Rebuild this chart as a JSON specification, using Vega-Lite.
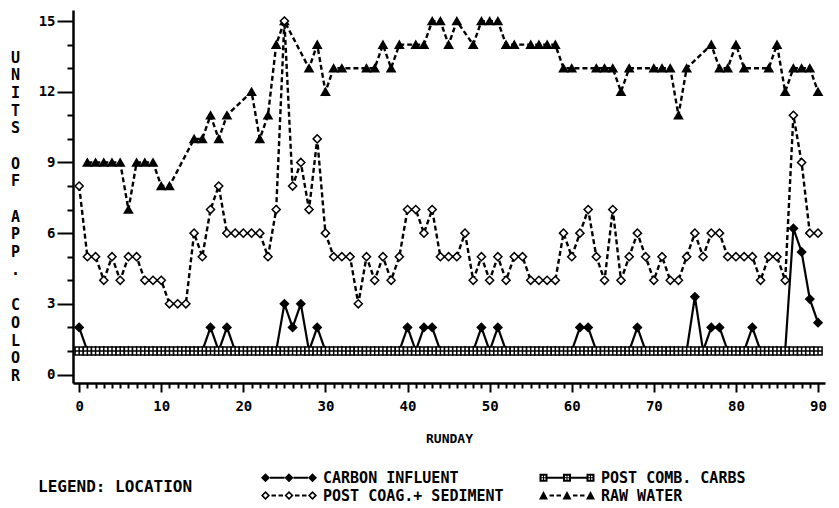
{
  "$schema": "https://vega.github.io/schema/vega-lite/v6.json",
  "autosize": "none",
  "padding": {"left": 73, "top": 10, "right": 14, "bottom": 125},
  "width": 752,
  "height": 373,
  "background": "white",
  "config": {
    "view": {"stroke": null},
    "axis": {"domainColor": "black", "domainWidth": 2.5, "tickColor": "black", "tickWidth": 2, "labelColor": "black", "titleColor": "black", "labelFont": "DejaVu Sans Mono", "titleFont": "DejaVu Sans Mono", "labelFontWeight": "bold", "titleFontWeight": "bold", "grid": false, "labelOverlap": false, "labelBound": false, "labelFlush": false},
    "legend": {"labelColor": "black", "titleColor": "black"}
  },
  "resolve": {"scale": {"shape": "independent"}},
  "data": {"values": [
    {"day":0,"value":2,"location":"CARBON INFLUENT"},{"day":1,"value":1,"location":"CARBON INFLUENT"},{"day":2,"value":1,"location":"CARBON INFLUENT"},{"day":3,"value":1,"location":"CARBON INFLUENT"},{"day":4,"value":1,"location":"CARBON INFLUENT"},{"day":5,"value":1,"location":"CARBON INFLUENT"},{"day":6,"value":1,"location":"CARBON INFLUENT"},{"day":7,"value":1,"location":"CARBON INFLUENT"},{"day":8,"value":1,"location":"CARBON INFLUENT"},{"day":9,"value":1,"location":"CARBON INFLUENT"},
    {"day":10,"value":1,"location":"CARBON INFLUENT"},{"day":11,"value":1,"location":"CARBON INFLUENT"},{"day":12,"value":1,"location":"CARBON INFLUENT"},{"day":13,"value":1,"location":"CARBON INFLUENT"},{"day":14,"value":1,"location":"CARBON INFLUENT"},{"day":15,"value":1,"location":"CARBON INFLUENT"},{"day":16,"value":2,"location":"CARBON INFLUENT"},{"day":17,"value":1,"location":"CARBON INFLUENT"},{"day":18,"value":2,"location":"CARBON INFLUENT"},{"day":19,"value":1,"location":"CARBON INFLUENT"},
    {"day":20,"value":1,"location":"CARBON INFLUENT"},{"day":21,"value":1,"location":"CARBON INFLUENT"},{"day":22,"value":1,"location":"CARBON INFLUENT"},{"day":23,"value":1,"location":"CARBON INFLUENT"},{"day":24,"value":1,"location":"CARBON INFLUENT"},{"day":25,"value":3,"location":"CARBON INFLUENT"},{"day":26,"value":2,"location":"CARBON INFLUENT"},{"day":27,"value":3,"location":"CARBON INFLUENT"},{"day":28,"value":1,"location":"CARBON INFLUENT"},{"day":29,"value":2,"location":"CARBON INFLUENT"},
    {"day":30,"value":1,"location":"CARBON INFLUENT"},{"day":31,"value":1,"location":"CARBON INFLUENT"},{"day":32,"value":1,"location":"CARBON INFLUENT"},{"day":33,"value":1,"location":"CARBON INFLUENT"},{"day":34,"value":1,"location":"CARBON INFLUENT"},{"day":35,"value":1,"location":"CARBON INFLUENT"},{"day":36,"value":1,"location":"CARBON INFLUENT"},{"day":37,"value":1,"location":"CARBON INFLUENT"},{"day":38,"value":1,"location":"CARBON INFLUENT"},{"day":39,"value":1,"location":"CARBON INFLUENT"},
    {"day":40,"value":2,"location":"CARBON INFLUENT"},{"day":41,"value":1,"location":"CARBON INFLUENT"},{"day":42,"value":2,"location":"CARBON INFLUENT"},{"day":43,"value":2,"location":"CARBON INFLUENT"},{"day":44,"value":1,"location":"CARBON INFLUENT"},{"day":45,"value":1,"location":"CARBON INFLUENT"},{"day":46,"value":1,"location":"CARBON INFLUENT"},{"day":47,"value":1,"location":"CARBON INFLUENT"},{"day":48,"value":1,"location":"CARBON INFLUENT"},{"day":49,"value":2,"location":"CARBON INFLUENT"},
    {"day":50,"value":1,"location":"CARBON INFLUENT"},{"day":51,"value":2,"location":"CARBON INFLUENT"},{"day":52,"value":1,"location":"CARBON INFLUENT"},{"day":53,"value":1,"location":"CARBON INFLUENT"},{"day":54,"value":1,"location":"CARBON INFLUENT"},{"day":55,"value":1,"location":"CARBON INFLUENT"},{"day":56,"value":1,"location":"CARBON INFLUENT"},{"day":57,"value":1,"location":"CARBON INFLUENT"},{"day":58,"value":1,"location":"CARBON INFLUENT"},{"day":59,"value":1,"location":"CARBON INFLUENT"},
    {"day":60,"value":1,"location":"CARBON INFLUENT"},{"day":61,"value":2,"location":"CARBON INFLUENT"},{"day":62,"value":2,"location":"CARBON INFLUENT"},{"day":63,"value":1,"location":"CARBON INFLUENT"},{"day":64,"value":1,"location":"CARBON INFLUENT"},{"day":65,"value":1,"location":"CARBON INFLUENT"},{"day":66,"value":1,"location":"CARBON INFLUENT"},{"day":67,"value":1,"location":"CARBON INFLUENT"},{"day":68,"value":2,"location":"CARBON INFLUENT"},{"day":69,"value":1,"location":"CARBON INFLUENT"},
    {"day":70,"value":1,"location":"CARBON INFLUENT"},{"day":71,"value":1,"location":"CARBON INFLUENT"},{"day":72,"value":1,"location":"CARBON INFLUENT"},{"day":73,"value":1,"location":"CARBON INFLUENT"},{"day":74,"value":1,"location":"CARBON INFLUENT"},{"day":75,"value":3.3,"location":"CARBON INFLUENT"},{"day":76,"value":1,"location":"CARBON INFLUENT"},{"day":77,"value":2,"location":"CARBON INFLUENT"},{"day":78,"value":2,"location":"CARBON INFLUENT"},{"day":79,"value":1,"location":"CARBON INFLUENT"},
    {"day":80,"value":1,"location":"CARBON INFLUENT"},{"day":81,"value":1,"location":"CARBON INFLUENT"},{"day":82,"value":2,"location":"CARBON INFLUENT"},{"day":83,"value":1,"location":"CARBON INFLUENT"},{"day":84,"value":1,"location":"CARBON INFLUENT"},{"day":85,"value":1,"location":"CARBON INFLUENT"},{"day":86,"value":1,"location":"CARBON INFLUENT"},{"day":87,"value":6.2,"location":"CARBON INFLUENT"},{"day":88,"value":5.2,"location":"CARBON INFLUENT"},{"day":89,"value":3.2,"location":"CARBON INFLUENT"},{"day":90,"value":2.2,"location":"CARBON INFLUENT"},

    {"day":0,"value":8,"location":"POST COAG.+ SEDIMENT"},{"day":1,"value":5,"location":"POST COAG.+ SEDIMENT"},{"day":2,"value":5,"location":"POST COAG.+ SEDIMENT"},{"day":3,"value":4,"location":"POST COAG.+ SEDIMENT"},{"day":4,"value":5,"location":"POST COAG.+ SEDIMENT"},{"day":5,"value":4,"location":"POST COAG.+ SEDIMENT"},{"day":6,"value":5,"location":"POST COAG.+ SEDIMENT"},{"day":7,"value":5,"location":"POST COAG.+ SEDIMENT"},{"day":8,"value":4,"location":"POST COAG.+ SEDIMENT"},{"day":9,"value":4,"location":"POST COAG.+ SEDIMENT"},
    {"day":10,"value":4,"location":"POST COAG.+ SEDIMENT"},{"day":11,"value":3,"location":"POST COAG.+ SEDIMENT"},{"day":12,"value":3,"location":"POST COAG.+ SEDIMENT"},{"day":13,"value":3,"location":"POST COAG.+ SEDIMENT"},{"day":14,"value":6,"location":"POST COAG.+ SEDIMENT"},{"day":15,"value":5,"location":"POST COAG.+ SEDIMENT"},{"day":16,"value":7,"location":"POST COAG.+ SEDIMENT"},{"day":17,"value":8,"location":"POST COAG.+ SEDIMENT"},{"day":18,"value":6,"location":"POST COAG.+ SEDIMENT"},{"day":19,"value":6,"location":"POST COAG.+ SEDIMENT"},
    {"day":20,"value":6,"location":"POST COAG.+ SEDIMENT"},{"day":21,"value":6,"location":"POST COAG.+ SEDIMENT"},{"day":22,"value":6,"location":"POST COAG.+ SEDIMENT"},{"day":23,"value":5,"location":"POST COAG.+ SEDIMENT"},{"day":24,"value":7,"location":"POST COAG.+ SEDIMENT"},{"day":25,"value":15,"location":"POST COAG.+ SEDIMENT"},{"day":26,"value":8,"location":"POST COAG.+ SEDIMENT"},{"day":27,"value":9,"location":"POST COAG.+ SEDIMENT"},{"day":28,"value":7,"location":"POST COAG.+ SEDIMENT"},{"day":29,"value":10,"location":"POST COAG.+ SEDIMENT"},
    {"day":30,"value":6,"location":"POST COAG.+ SEDIMENT"},{"day":31,"value":5,"location":"POST COAG.+ SEDIMENT"},{"day":32,"value":5,"location":"POST COAG.+ SEDIMENT"},{"day":33,"value":5,"location":"POST COAG.+ SEDIMENT"},{"day":34,"value":3,"location":"POST COAG.+ SEDIMENT"},{"day":35,"value":5,"location":"POST COAG.+ SEDIMENT"},{"day":36,"value":4,"location":"POST COAG.+ SEDIMENT"},{"day":37,"value":5,"location":"POST COAG.+ SEDIMENT"},{"day":38,"value":4,"location":"POST COAG.+ SEDIMENT"},{"day":39,"value":5,"location":"POST COAG.+ SEDIMENT"},
    {"day":40,"value":7,"location":"POST COAG.+ SEDIMENT"},{"day":41,"value":7,"location":"POST COAG.+ SEDIMENT"},{"day":42,"value":6,"location":"POST COAG.+ SEDIMENT"},{"day":43,"value":7,"location":"POST COAG.+ SEDIMENT"},{"day":44,"value":5,"location":"POST COAG.+ SEDIMENT"},{"day":45,"value":5,"location":"POST COAG.+ SEDIMENT"},{"day":46,"value":5,"location":"POST COAG.+ SEDIMENT"},{"day":47,"value":6,"location":"POST COAG.+ SEDIMENT"},{"day":48,"value":4,"location":"POST COAG.+ SEDIMENT"},{"day":49,"value":5,"location":"POST COAG.+ SEDIMENT"},
    {"day":50,"value":4,"location":"POST COAG.+ SEDIMENT"},{"day":51,"value":5,"location":"POST COAG.+ SEDIMENT"},{"day":52,"value":4,"location":"POST COAG.+ SEDIMENT"},{"day":53,"value":5,"location":"POST COAG.+ SEDIMENT"},{"day":54,"value":5,"location":"POST COAG.+ SEDIMENT"},{"day":55,"value":4,"location":"POST COAG.+ SEDIMENT"},{"day":56,"value":4,"location":"POST COAG.+ SEDIMENT"},{"day":57,"value":4,"location":"POST COAG.+ SEDIMENT"},{"day":58,"value":4,"location":"POST COAG.+ SEDIMENT"},{"day":59,"value":6,"location":"POST COAG.+ SEDIMENT"},
    {"day":60,"value":5,"location":"POST COAG.+ SEDIMENT"},{"day":61,"value":6,"location":"POST COAG.+ SEDIMENT"},{"day":62,"value":7,"location":"POST COAG.+ SEDIMENT"},{"day":63,"value":5,"location":"POST COAG.+ SEDIMENT"},{"day":64,"value":4,"location":"POST COAG.+ SEDIMENT"},{"day":65,"value":7,"location":"POST COAG.+ SEDIMENT"},{"day":66,"value":4,"location":"POST COAG.+ SEDIMENT"},{"day":67,"value":5,"location":"POST COAG.+ SEDIMENT"},{"day":68,"value":6,"location":"POST COAG.+ SEDIMENT"},{"day":69,"value":5,"location":"POST COAG.+ SEDIMENT"},
    {"day":70,"value":4,"location":"POST COAG.+ SEDIMENT"},{"day":71,"value":5,"location":"POST COAG.+ SEDIMENT"},{"day":72,"value":4,"location":"POST COAG.+ SEDIMENT"},{"day":73,"value":4,"location":"POST COAG.+ SEDIMENT"},{"day":74,"value":5,"location":"POST COAG.+ SEDIMENT"},{"day":75,"value":6,"location":"POST COAG.+ SEDIMENT"},{"day":76,"value":5,"location":"POST COAG.+ SEDIMENT"},{"day":77,"value":6,"location":"POST COAG.+ SEDIMENT"},{"day":78,"value":6,"location":"POST COAG.+ SEDIMENT"},{"day":79,"value":5,"location":"POST COAG.+ SEDIMENT"},
    {"day":80,"value":5,"location":"POST COAG.+ SEDIMENT"},{"day":81,"value":5,"location":"POST COAG.+ SEDIMENT"},{"day":82,"value":5,"location":"POST COAG.+ SEDIMENT"},{"day":83,"value":4,"location":"POST COAG.+ SEDIMENT"},{"day":84,"value":5,"location":"POST COAG.+ SEDIMENT"},{"day":85,"value":5,"location":"POST COAG.+ SEDIMENT"},{"day":86,"value":4,"location":"POST COAG.+ SEDIMENT"},{"day":87,"value":11,"location":"POST COAG.+ SEDIMENT"},{"day":88,"value":9,"location":"POST COAG.+ SEDIMENT"},{"day":89,"value":6,"location":"POST COAG.+ SEDIMENT"},{"day":90,"value":6,"location":"POST COAG.+ SEDIMENT"},

    {"day":0,"value":1,"location":"POST COMB. CARBS"},{"day":1,"value":1,"location":"POST COMB. CARBS"},{"day":2,"value":1,"location":"POST COMB. CARBS"},{"day":3,"value":1,"location":"POST COMB. CARBS"},{"day":4,"value":1,"location":"POST COMB. CARBS"},{"day":5,"value":1,"location":"POST COMB. CARBS"},{"day":6,"value":1,"location":"POST COMB. CARBS"},{"day":7,"value":1,"location":"POST COMB. CARBS"},{"day":8,"value":1,"location":"POST COMB. CARBS"},{"day":9,"value":1,"location":"POST COMB. CARBS"},
    {"day":10,"value":1,"location":"POST COMB. CARBS"},{"day":11,"value":1,"location":"POST COMB. CARBS"},{"day":12,"value":1,"location":"POST COMB. CARBS"},{"day":13,"value":1,"location":"POST COMB. CARBS"},{"day":14,"value":1,"location":"POST COMB. CARBS"},{"day":15,"value":1,"location":"POST COMB. CARBS"},{"day":16,"value":1,"location":"POST COMB. CARBS"},{"day":17,"value":1,"location":"POST COMB. CARBS"},{"day":18,"value":1,"location":"POST COMB. CARBS"},{"day":19,"value":1,"location":"POST COMB. CARBS"},
    {"day":20,"value":1,"location":"POST COMB. CARBS"},{"day":21,"value":1,"location":"POST COMB. CARBS"},{"day":22,"value":1,"location":"POST COMB. CARBS"},{"day":23,"value":1,"location":"POST COMB. CARBS"},{"day":24,"value":1,"location":"POST COMB. CARBS"},{"day":25,"value":1,"location":"POST COMB. CARBS"},{"day":26,"value":1,"location":"POST COMB. CARBS"},{"day":27,"value":1,"location":"POST COMB. CARBS"},{"day":28,"value":1,"location":"POST COMB. CARBS"},{"day":29,"value":1,"location":"POST COMB. CARBS"},
    {"day":30,"value":1,"location":"POST COMB. CARBS"},{"day":31,"value":1,"location":"POST COMB. CARBS"},{"day":32,"value":1,"location":"POST COMB. CARBS"},{"day":33,"value":1,"location":"POST COMB. CARBS"},{"day":34,"value":1,"location":"POST COMB. CARBS"},{"day":35,"value":1,"location":"POST COMB. CARBS"},{"day":36,"value":1,"location":"POST COMB. CARBS"},{"day":37,"value":1,"location":"POST COMB. CARBS"},{"day":38,"value":1,"location":"POST COMB. CARBS"},{"day":39,"value":1,"location":"POST COMB. CARBS"},
    {"day":40,"value":1,"location":"POST COMB. CARBS"},{"day":41,"value":1,"location":"POST COMB. CARBS"},{"day":42,"value":1,"location":"POST COMB. CARBS"},{"day":43,"value":1,"location":"POST COMB. CARBS"},{"day":44,"value":1,"location":"POST COMB. CARBS"},{"day":45,"value":1,"location":"POST COMB. CARBS"},{"day":46,"value":1,"location":"POST COMB. CARBS"},{"day":47,"value":1,"location":"POST COMB. CARBS"},{"day":48,"value":1,"location":"POST COMB. CARBS"},{"day":49,"value":1,"location":"POST COMB. CARBS"},
    {"day":50,"value":1,"location":"POST COMB. CARBS"},{"day":51,"value":1,"location":"POST COMB. CARBS"},{"day":52,"value":1,"location":"POST COMB. CARBS"},{"day":53,"value":1,"location":"POST COMB. CARBS"},{"day":54,"value":1,"location":"POST COMB. CARBS"},{"day":55,"value":1,"location":"POST COMB. CARBS"},{"day":56,"value":1,"location":"POST COMB. CARBS"},{"day":57,"value":1,"location":"POST COMB. CARBS"},{"day":58,"value":1,"location":"POST COMB. CARBS"},{"day":59,"value":1,"location":"POST COMB. CARBS"},
    {"day":60,"value":1,"location":"POST COMB. CARBS"},{"day":61,"value":1,"location":"POST COMB. CARBS"},{"day":62,"value":1,"location":"POST COMB. CARBS"},{"day":63,"value":1,"location":"POST COMB. CARBS"},{"day":64,"value":1,"location":"POST COMB. CARBS"},{"day":65,"value":1,"location":"POST COMB. CARBS"},{"day":66,"value":1,"location":"POST COMB. CARBS"},{"day":67,"value":1,"location":"POST COMB. CARBS"},{"day":68,"value":1,"location":"POST COMB. CARBS"},{"day":69,"value":1,"location":"POST COMB. CARBS"},
    {"day":70,"value":1,"location":"POST COMB. CARBS"},{"day":71,"value":1,"location":"POST COMB. CARBS"},{"day":72,"value":1,"location":"POST COMB. CARBS"},{"day":73,"value":1,"location":"POST COMB. CARBS"},{"day":74,"value":1,"location":"POST COMB. CARBS"},{"day":75,"value":1,"location":"POST COMB. CARBS"},{"day":76,"value":1,"location":"POST COMB. CARBS"},{"day":77,"value":1,"location":"POST COMB. CARBS"},{"day":78,"value":1,"location":"POST COMB. CARBS"},{"day":79,"value":1,"location":"POST COMB. CARBS"},
    {"day":80,"value":1,"location":"POST COMB. CARBS"},{"day":81,"value":1,"location":"POST COMB. CARBS"},{"day":82,"value":1,"location":"POST COMB. CARBS"},{"day":83,"value":1,"location":"POST COMB. CARBS"},{"day":84,"value":1,"location":"POST COMB. CARBS"},{"day":85,"value":1,"location":"POST COMB. CARBS"},{"day":86,"value":1,"location":"POST COMB. CARBS"},{"day":87,"value":1,"location":"POST COMB. CARBS"},{"day":88,"value":1,"location":"POST COMB. CARBS"},{"day":89,"value":1,"location":"POST COMB. CARBS"},{"day":90,"value":1,"location":"POST COMB. CARBS"},

    {"day":1,"value":9,"location":"RAW WATER"},{"day":2,"value":9,"location":"RAW WATER"},{"day":3,"value":9,"location":"RAW WATER"},{"day":4,"value":9,"location":"RAW WATER"},{"day":5,"value":9,"location":"RAW WATER"},{"day":6,"value":7,"location":"RAW WATER"},{"day":7,"value":9,"location":"RAW WATER"},{"day":8,"value":9,"location":"RAW WATER"},{"day":9,"value":9,"location":"RAW WATER"},{"day":10,"value":8,"location":"RAW WATER"},
    {"day":11,"value":8,"location":"RAW WATER"},{"day":14,"value":10,"location":"RAW WATER"},{"day":15,"value":10,"location":"RAW WATER"},{"day":16,"value":11,"location":"RAW WATER"},{"day":17,"value":10,"location":"RAW WATER"},{"day":18,"value":11,"location":"RAW WATER"},{"day":21,"value":12,"location":"RAW WATER"},{"day":22,"value":10,"location":"RAW WATER"},{"day":23,"value":11,"location":"RAW WATER"},{"day":24,"value":14,"location":"RAW WATER"},
    {"day":25,"value":15,"location":"RAW WATER"},{"day":28,"value":13,"location":"RAW WATER"},{"day":29,"value":14,"location":"RAW WATER"},{"day":30,"value":12,"location":"RAW WATER"},{"day":31,"value":13,"location":"RAW WATER"},{"day":32,"value":13,"location":"RAW WATER"},{"day":35,"value":13,"location":"RAW WATER"},{"day":36,"value":13,"location":"RAW WATER"},{"day":37,"value":14,"location":"RAW WATER"},{"day":38,"value":13,"location":"RAW WATER"},
    {"day":39,"value":14,"location":"RAW WATER"},{"day":41,"value":14,"location":"RAW WATER"},{"day":42,"value":14,"location":"RAW WATER"},{"day":43,"value":15,"location":"RAW WATER"},{"day":44,"value":15,"location":"RAW WATER"},{"day":45,"value":14,"location":"RAW WATER"},{"day":46,"value":15,"location":"RAW WATER"},{"day":48,"value":14,"location":"RAW WATER"},{"day":49,"value":15,"location":"RAW WATER"},{"day":50,"value":15,"location":"RAW WATER"},
    {"day":51,"value":15,"location":"RAW WATER"},{"day":52,"value":14,"location":"RAW WATER"},{"day":53,"value":14,"location":"RAW WATER"},{"day":55,"value":14,"location":"RAW WATER"},{"day":56,"value":14,"location":"RAW WATER"},{"day":57,"value":14,"location":"RAW WATER"},{"day":58,"value":14,"location":"RAW WATER"},{"day":59,"value":13,"location":"RAW WATER"},{"day":60,"value":13,"location":"RAW WATER"},{"day":63,"value":13,"location":"RAW WATER"},
    {"day":64,"value":13,"location":"RAW WATER"},{"day":65,"value":13,"location":"RAW WATER"},{"day":66,"value":12,"location":"RAW WATER"},{"day":67,"value":13,"location":"RAW WATER"},{"day":70,"value":13,"location":"RAW WATER"},{"day":71,"value":13,"location":"RAW WATER"},{"day":72,"value":13,"location":"RAW WATER"},{"day":73,"value":11,"location":"RAW WATER"},{"day":74,"value":13,"location":"RAW WATER"},{"day":77,"value":14,"location":"RAW WATER"},
    {"day":78,"value":13,"location":"RAW WATER"},{"day":79,"value":13,"location":"RAW WATER"},{"day":80,"value":14,"location":"RAW WATER"},{"day":81,"value":13,"location":"RAW WATER"},{"day":84,"value":13,"location":"RAW WATER"},{"day":85,"value":14,"location":"RAW WATER"},{"day":86,"value":12,"location":"RAW WATER"},{"day":87,"value":13,"location":"RAW WATER"},{"day":88,"value":13,"location":"RAW WATER"},{"day":89,"value":13,"location":"RAW WATER"},{"day":90,"value":12,"location":"RAW WATER"}
  ]},
  "encoding": {
    "x": {"field": "day", "type": "quantitative",
      "scale": {"domain": [-0.75, 90.85], "nice": false, "zero": false},
      "axis": {
        "values": [0,1,2,3,4,5,6,7,8,9,10,11,12,13,14,15,16,17,18,19,20,21,22,23,24,25,26,27,28,29,30,31,32,33,34,35,36,37,38,39,40,41,42,43,44,45,46,47,48,49,50,51,52,53,54,55,56,57,58,59,60,61,62,63,64,65,66,67,68,69,70,71,72,73,74,75,76,77,78,79,80,81,82,83,84,85,86,87,88,89,90],
        "format": "d",
        "labelExpr": "datum.value % 10 === 0 ? datum.label : ''",
        "tickSize": {"condition": {"test": "datum.value % 10 === 0", "value": 9}, "value": 5},
        "labelPadding": 7, "labelFontSize": 14,
        "title": "RUNDAY", "titleFontSize": 13, "titleBaseline": "top", "titleY": 49
      }
    },
    "y": {"field": "value", "type": "quantitative",
      "scale": {"domain": [-0.36, 15.47], "nice": false, "zero": false},
      "axis": {
        "values": [0,0.5,1,1.5,2,2.5,3,3.5,4,4.5,5,5.5,6,6.5,7,7.5,8,8.5,9,9.5,10,10.5,11,11.5,12,12.5,13,13.5,14,14.5,15],
        "format": "d",
        "labelExpr": "datum.value % 3 === 0 ? datum.label : ''",
        "tickSize": {"condition": {"test": "datum.value % 3 === 0", "value": 16}, "value": 6},
        "labelPadding": 2, "labelFontSize": 14,
        "title": ["U","N","I","T","S","\u200b","O","F","\u200b","A","P","P",".","\u200b","C","O","L","O","R"],
        "titleAngle": 0, "titleAlign": "center", "titleBaseline": "top", "titleX": -58, "titleY": 40,
        "titleLineHeight": 17.7, "titleFontSize": 15
      }
    }
  },
  "layer": [
    {
      "transform": [{"filter": "datum.location === 'CARBON INFLUENT' || datum.location === 'POST COMB. CARBS'"}],
      "mark": {"type": "line", "color": "black", "strokeWidth": 2.2},
      "encoding": {"detail": {"field": "location"}}
    },
    {
      "transform": [{"filter": "datum.location === 'POST COAG.+ SEDIMENT' || datum.location === 'RAW WATER'"}],
      "mark": {"type": "line", "color": "black", "strokeWidth": 2.4, "strokeDash": [5, 3]},
      "encoding": {"detail": {"field": "location"}}
    },
    {
      "transform": [{"filter": "datum.location === 'CARBON INFLUENT' || datum.location === 'RAW WATER'"}],
      "mark": {"type": "point", "filled": true, "fill": "black", "stroke": "black", "strokeWidth": 1.5, "size": 66, "opacity": 1},
      "encoding": {
        "shape": {"field": "location", "type": "nominal", "legend": null,
          "scale": {"domain": ["CARBON INFLUENT","POST COMB. CARBS","POST COAG.+ SEDIMENT","RAW WATER"],
            "range": ["diamond","M-1,-1H1V1H-1ZM0,-1V1M-1,0H1","diamond","triangle-up"]}}
      }
    },
    {
      "transform": [{"filter": "datum.location === 'POST COAG.+ SEDIMENT' || datum.location === 'POST COMB. CARBS'"}],
      "mark": {"type": "point", "filled": true, "fill": "white", "stroke": "black", "strokeWidth": 1.5, "size": 66, "opacity": 1},
      "encoding": {
        "shape": {"field": "location", "type": "nominal", "legend": null,
          "scale": {"domain": ["CARBON INFLUENT","POST COMB. CARBS","POST COAG.+ SEDIMENT","RAW WATER"],
            "range": ["diamond","M-1,-1H1V1H-1ZM0,-1V1M-1,0H1","diamond","triangle-up"]}}
      }
    },
    {
      "mark": {"type": "point", "filled": true, "fill": "black", "stroke": "black", "strokeWidth": 1, "size": 60, "opacity": 0},
      "encoding": {
        "shape": {"field": "location", "type": "nominal",
          "scale": {"domain": ["CARBON INFLUENT","POST COMB. CARBS","POST COAG.+ SEDIMENT","RAW WATER"],
            "range": [
              "M-1.1,0L-0.2,-0.9L0.7,0L-0.2,0.9ZM3.6,0L4.5,-0.9L5.4,0L4.5,0.9ZM8.3,0L9.2,-0.9L10.1,0L9.2,0.9ZM0.7,-0.2H3.6V0.2H0.7ZM5.4,-0.2H8.3V0.2H5.4Z",
              "M-1,-0.8H0.6V0.8H-1ZM-0.6,-0.4V0.4H0.2V-0.4ZM-0.3,-0.8H-0.1V0.8H-0.3ZM-1,-0.1H0.6V0.1H-1ZM3.7,-0.8H5.3V0.8H3.7ZM4.1,-0.4V0.4H4.9V-0.4ZM4.4,-0.8H4.6V0.8H4.4ZM3.7,-0.1H5.3V0.1H3.7ZM8.4,-0.8H10V0.8H8.4ZM8.8,-0.4V0.4H9.6V-0.4ZM9.1,-0.8H9.3V0.8H9.1ZM8.4,-0.1H10V0.1H8.4ZM0.6,-0.2H3.7V0.2H0.6ZM5.3,-0.2H8.4V0.2H5.3Z",
              "M-1.1,0L-0.2,-0.9L0.7,0L-0.2,0.9ZM-0.65,0L-0.2,0.45L0.25,0L-0.2,-0.45ZM3.6,0L4.5,-0.9L5.4,0L4.5,0.9ZM4.05,0L4.5,0.45L4.95,0L4.5,-0.45ZM8.3,0L9.2,-0.9L10.1,0L9.2,0.9ZM8.75,0L9.2,0.45L9.65,0L9.2,-0.45ZM1,-0.2H1.9V0.2H1ZM2.4,-0.2H3.3V0.2H2.4ZM5.7,-0.2H6.6V0.2H5.7ZM7.1,-0.2H8V0.2H7.1Z",
              "M-1.1,0.8L-0.2,-0.9L0.7,0.8ZM3.6,0.8L4.5,-0.9L5.4,0.8ZM8.3,0.8L9.2,-0.9L10.1,0.8ZM1,-0.2H1.9V0.2H1ZM2.4,-0.2H3.3V0.2H2.4ZM5.7,-0.2H6.6V0.2H5.7ZM7.1,-0.2H8V0.2H7.1Z"
            ]},
          "legend": {
            "orient": "none", "legendX": -35, "legendY": 460,
            "direction": "horizontal", "columns": 2,
            "title": "LEGEND: LOCATION", "titleOrient": "left", "titlePadding": 66,
            "titleFont": "DejaVu Sans Mono", "titleFontSize": 16, "titleFontWeight": "bold",
            "labelFont": "DejaVu Sans Mono", "labelFontSize": 15, "labelFontWeight": "bold", "labelLimit": 400,
            "symbolSize": 100, "labelOffset": 49, "rowPadding": 2, "columnPadding": 33, "padding": 0,
            "symbolOpacity": 1, "symbolFillColor": "black", "symbolStrokeColor": "black", "symbolStrokeWidth": 1
          }
        }
      }
    }
  ]
}
